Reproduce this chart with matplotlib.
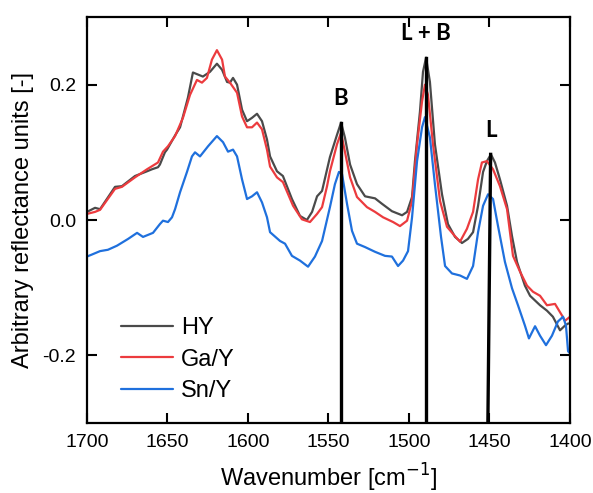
import numpy as np
import matplotlib
matplotlib.use("Agg")
import matplotlib.pyplot as plt

plt.rcParams["font.family"] = ["Liberation Sans", "DejaVu Sans"]
plt.rcParams["axes.unicode_minus"] = False

# HY
hy_wn = [1700.0, 1695.0, 1691.9, 1682.6, 1678.3, 1670.2, 1662.7, 1659.6, 1655.9, 1654.7,
         1651.6, 1650.3, 1645.3, 1642.2, 1640.4, 1637.3, 1634.2, 1631.1, 1628.0, 1623.6,
         1619.3, 1616.1, 1613.0, 1611.2, 1609.3, 1606.8, 1603.7, 1600.6, 1597.5, 1594.4,
         1591.3, 1588.2, 1586.3, 1582.0, 1578.3, 1572.7, 1567.7, 1563.4, 1560.2, 1557.1,
         1554.0, 1549.1, 1544.7, 1542.2, 1539.8, 1536.6, 1532.3, 1527.3, 1521.1, 1516.8,
         1510.6, 1504.3, 1501.2, 1498.1, 1496.3, 1493.2, 1491.3, 1489.4, 1487.0, 1483.9,
         1479.5, 1475.8, 1471.4, 1467.1, 1463.4, 1460.2, 1457.1, 1454.0, 1451.6, 1449.1,
         1446.6, 1443.5, 1439.1, 1436.0, 1432.9, 1428.0, 1424.8, 1418.6, 1414.3, 1410.6,
         1406.2, 1403.1, 1401.2, 1400.0]
hy_y = [0.012, 0.018, 0.016, 0.049, 0.050, 0.065, 0.072, 0.075, 0.078, 0.082,
        0.100, 0.104, 0.125, 0.137, 0.153, 0.181, 0.218, 0.215, 0.212, 0.219,
        0.231, 0.222, 0.204, 0.203, 0.210, 0.200, 0.163, 0.146, 0.151, 0.157,
        0.146, 0.119, 0.094, 0.072, 0.065, 0.031, 0.006, 0.000, 0.012, 0.035,
        0.043, 0.093, 0.126, 0.144, 0.122, 0.082, 0.053, 0.035, 0.032, 0.024,
        0.013, 0.007, 0.012, 0.034, 0.087, 0.160, 0.219, 0.240, 0.204, 0.112,
        0.038, -0.006, -0.025, -0.034, -0.028, -0.018, 0.021, 0.071, 0.087, 0.097,
        0.085, 0.060, 0.021, -0.024, -0.062, -0.097, -0.112, -0.126, -0.134, -0.143,
        -0.163, -0.156, -0.153, -0.153]

# Ga/Y
ga_wn = [1700.0, 1695.0, 1691.9, 1682.6, 1678.3, 1670.2, 1662.7, 1655.9, 1652.8, 1649.7,
         1645.3, 1640.4, 1636.0, 1631.7, 1628.6, 1625.5, 1622.4, 1619.3, 1616.1, 1614.3,
         1611.2, 1606.8, 1603.7, 1600.6, 1597.5, 1594.4, 1591.3, 1588.2, 1586.3, 1582.0,
         1578.3, 1572.0, 1566.5, 1561.5, 1557.1, 1554.0, 1550.9, 1549.1, 1544.7, 1542.2,
         1539.8, 1536.6, 1532.3, 1526.1, 1521.1, 1516.1, 1509.9, 1505.6, 1501.2, 1498.1,
         1495.0, 1491.9, 1490.1, 1488.2, 1485.1, 1480.7, 1476.4, 1471.4, 1468.3, 1464.0,
         1460.2, 1457.1, 1454.7, 1451.6, 1447.8, 1443.5, 1439.1, 1435.4, 1431.1, 1426.7,
         1423.0, 1418.6, 1414.3, 1409.3, 1405.0, 1403.1, 1400.0]
ga_y = [0.009, 0.012, 0.015, 0.046, 0.049, 0.063, 0.075, 0.085, 0.101, 0.109,
        0.124, 0.151, 0.185, 0.207, 0.203, 0.210, 0.237, 0.251, 0.237, 0.212,
        0.203, 0.188, 0.153, 0.137, 0.137, 0.144, 0.134, 0.104, 0.079, 0.063,
        0.056, 0.021, 0.001, -0.003, 0.009, 0.019, 0.050, 0.072, 0.112, 0.129,
        0.101, 0.063, 0.034, 0.019, 0.012, 0.004, -0.003, -0.009, -0.001, 0.028,
        0.112, 0.175, 0.200, 0.185, 0.112, 0.028, -0.010, -0.024, -0.032, -0.013,
        0.012, 0.060, 0.085, 0.087, 0.075, 0.050, 0.016, -0.053, -0.076, -0.097,
        -0.106, -0.112, -0.126, -0.124, -0.141, -0.149, -0.143]

# Sn/Y
sn_wn = [1700.0, 1696.9, 1691.9, 1687.0, 1681.4, 1674.5, 1668.9, 1665.2, 1659.0, 1654.7,
         1652.8, 1649.7, 1647.2, 1645.3, 1642.2, 1637.9, 1634.8, 1632.9, 1629.8, 1624.8,
         1619.3, 1615.5, 1612.4, 1609.3, 1606.8, 1603.7, 1600.6, 1597.5, 1594.4, 1591.3,
         1588.2, 1586.3, 1580.1, 1577.0, 1572.7, 1567.7, 1562.7, 1558.4, 1554.0, 1549.1,
         1546.0, 1543.5, 1541.6, 1538.5, 1535.4, 1532.3, 1527.3, 1521.1, 1514.9, 1510.6,
         1506.8, 1503.7, 1500.6, 1498.1, 1495.0, 1491.9, 1490.1, 1487.0, 1483.9, 1480.1,
         1477.6, 1473.3, 1468.3, 1464.0, 1460.2, 1457.1, 1454.0, 1450.9, 1447.8, 1444.7,
         1440.4, 1436.0, 1432.3, 1428.0, 1425.5, 1421.7, 1418.6, 1414.9, 1411.2, 1407.5,
         1404.3, 1402.5, 1401.2, 1400.0]
sn_y = [-0.054, -0.051, -0.046, -0.044, -0.038, -0.028, -0.019, -0.025, -0.019, -0.006,
        -0.001, -0.003, 0.004, 0.016, 0.041, 0.071, 0.094, 0.100, 0.094, 0.109,
        0.124, 0.115, 0.101, 0.104, 0.094, 0.060, 0.031, 0.035, 0.041, 0.026,
        0.004, -0.018, -0.031, -0.035, -0.053, -0.060, -0.069, -0.054, -0.031, 0.019,
        0.053, 0.071, 0.068, 0.024, -0.016, -0.035, -0.040, -0.047, -0.053, -0.054,
        -0.068, -0.060, -0.046, 0.004, 0.087, 0.137, 0.152, 0.122, 0.053, -0.025,
        -0.068, -0.079, -0.082, -0.087, -0.068, -0.018, 0.021, 0.038, 0.031, -0.009,
        -0.062, -0.101, -0.126, -0.156, -0.175, -0.157, -0.171, -0.185, -0.171, -0.150,
        -0.143, -0.156, -0.194, -0.197]

# peak markers
peak_labels = ["B", "L + B", "L"]
peak_top_wn = [1542.2, 1489.4, 1449.3]
peak_bot_wn = [1542.2, 1489.4, 1451.0]
peak_height = [0.144, 0.240, 0.097]
label_y = [0.164, 0.260, 0.117]

series = [("HY", hy_wn, hy_y, "#4a4a4a"),
          ("Ga/Y", ga_wn, ga_y, "#ec3b3e"),
          ("Sn/Y", sn_wn, sn_y, "#1f70dd")]

fig = plt.figure(figsize=(5.93, 4.93), dpi=100)
ax = fig.add_axes([0.1467, 0.142, 0.8145, 0.8235])

for name, wn, y, col in series:
    ax.plot(wn, y, color=col, lw=1.6, label=name, zorder=2,
            solid_joinstyle="round", solid_capstyle="round")

for lab, xt, xb, h, ly in zip(peak_labels, peak_top_wn, peak_bot_wn, peak_height, label_y):
    ax.plot([xb, xt], [-0.3, h], color="black", lw=2.4, zorder=3)
    ax.text(xt, ly, lab, ha="center", va="bottom", fontsize=16,
            fontweight="bold", family=["Lato", "DejaVu Sans"])

ax.set_xlim(1700, 1400)
ax.set_ylim(-0.3, 0.3)
ax.set_xticks([1700, 1650, 1600, 1550, 1500, 1450, 1400])
ax.set_yticks([-0.2, 0.0, 0.2])
ax.set_yticklabels(["-0.2", "0.0", "0.2"])
ax.tick_params(direction="in", length=7, width=1.5, top=True, right=True,
               labelsize=14, pad=8)
for s in ax.spines.values():
    s.set_linewidth(1.6)

ax.set_xlabel("Wavenumber [cm$^{-1}$]", fontsize=17, labelpad=8)
ax.set_ylabel("Arbitrary reflectance units [-]", fontsize=17, labelpad=6)

ax.legend(loc="lower left", bbox_to_anchor=(0.05, 0.028), frameon=False,
          fontsize=17, handlelength=2.2, handletextpad=0.35, labelspacing=0.4,
          borderaxespad=0)

fig.savefig("out.png", dpi=100)
